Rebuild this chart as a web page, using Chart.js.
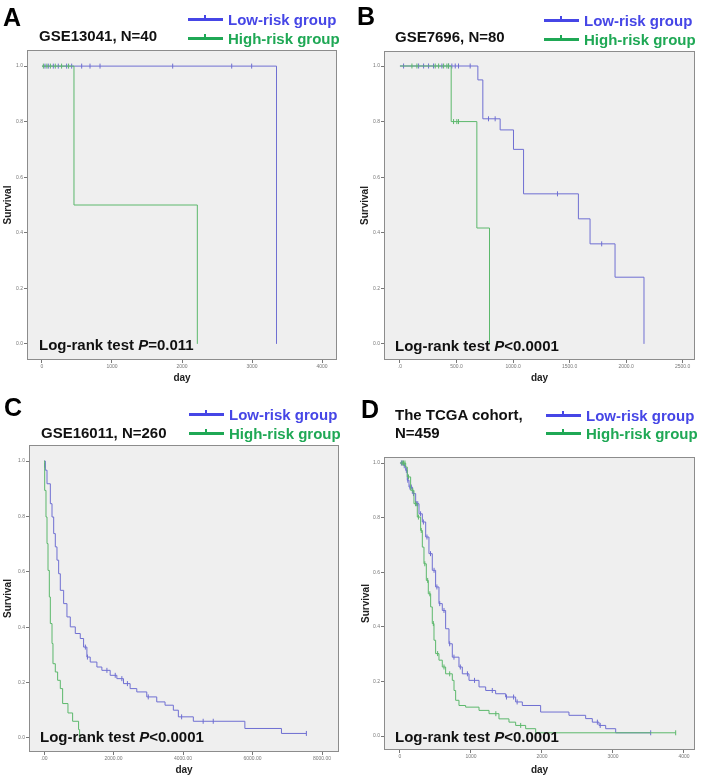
<!DOCTYPE html>
<html>
<head>
<meta charset="utf-8">
<script src="https://cdn.jsdelivr.net/npm/chart.js@4.4.1/dist/chart.umd.min.js"></script>
<style>
  body { margin: 0; background: #fff; font-family: "Liberation Sans", Arial, sans-serif; }
  #page { position: relative; width: 703px; height: 781px; overflow: hidden; background: #fff; }
  canvas { position: absolute; }
  .letter { position: absolute; font-size: 25px; font-weight: bold; line-height: 24px; color: #000; }
  .title { position: absolute; font-size: 15px; font-weight: bold; line-height: 18px; color: #111; white-space: nowrap; }
  .lg { position: absolute; display: flex; align-items: center; height: 18px; font-size: 15px; font-weight: bold; white-space: nowrap; }
  .lg .sw { position: relative; width: 35px; height: 3px; background: currentColor; margin-right: 5px; }
  .lg .sw::after { content: ""; position: absolute; left: 16px; top: -3px; width: 2px; height: 5px; background: currentColor; }
  .low { color: #4646e6; }
  .high { color: #1fa855; }
  .logrank { position: absolute; font-size: 15px; font-weight: bold; line-height: 18px; color: #111; white-space: nowrap; }
</style>
</head>
<body>
<div id="page">
  <canvas id="chartA" width="352" height="390" style="left:0;top:0"></canvas>
  <canvas id="chartB" width="351" height="390" style="left:352px;top:0"></canvas>
  <canvas id="chartC" width="352" height="391" style="left:0;top:390px"></canvas>
  <canvas id="chartD" width="351" height="391" style="left:352px;top:390px"></canvas>

  <div class="letter" style="left:3px;top:5px">A</div>
  <div class="title" style="left:39px;top:27px">GSE13041, N=40</div>
  <div class="lg low" style="left:188px;top:10px"><span class="sw"></span>Low-risk group</div>
  <div class="lg high" style="left:188px;top:29px"><span class="sw"></span>High-risk group</div>
  <div class="logrank" style="left:39px;top:336px">Log-rank test <i>P</i>=0.011</div>

  <div class="letter" style="left:357px;top:4px">B</div>
  <div class="title" style="left:395px;top:28px">GSE7696, N=80</div>
  <div class="lg low" style="left:544px;top:11px"><span class="sw"></span>Low-risk group</div>
  <div class="lg high" style="left:544px;top:30px"><span class="sw"></span>High-risk group</div>
  <div class="logrank" style="left:395px;top:337px">Log-rank test <i>P</i>&lt;0.0001</div>

  <div class="letter" style="left:4px;top:395px">C</div>
  <div class="title" style="left:41px;top:424px">GSE16011, N=260</div>
  <div class="lg low" style="left:189px;top:405px"><span class="sw"></span>Low-risk group</div>
  <div class="lg high" style="left:189px;top:424px"><span class="sw"></span>High-risk group</div>
  <div class="logrank" style="left:40px;top:728px">Log-rank test <i>P</i>&lt;0.0001</div>

  <div class="letter" style="left:361px;top:397px">D</div>
  <div class="title" style="left:395px;top:406px">The TCGA cohort,<br>N=459</div>
  <div class="lg low" style="left:546px;top:406px"><span class="sw"></span>Low-risk group</div>
  <div class="lg high" style="left:546px;top:424px"><span class="sw"></span>High-risk group</div>
  <div class="logrank" style="left:395px;top:728px">Log-rank test <i>P</i>&lt;0.0001</div>
</div>

<script>
const FONT = '"Liberation Sans", Arial, sans-serif';

// shared y axis
const yTicks = [0, 0.2, 0.4, 0.6, 0.8, 1.0];
const yLabels = ["0.0", "0.2", "0.4", "0.6", "0.8", "1.0"];

// A - GSE13041
const aXTicks = [0, 1000, 2000, 3000, 4000];
const aXLabels = ["0", "1000", "2000", "3000", "4000"];
const aLowTime = [0, 3350];
const aLowSurv = [1, 0];
const aLowCensTime = [43, 90, 162, 233, 352, 424, 567, 686, 829, 1867, 2710, 2995];
const aLowCensSurv = [1, 1, 1, 1, 1, 1, 1, 1, 1, 1, 1, 1];
const aHighTime = [0, 457, 2219];
const aHighSurv = [1, 0.5, 0];
const aHighCensTime = [20, 70, 120, 190, 280, 380];
const aHighCensSurv = [1, 1, 1, 1, 1, 1];

// B - GSE7696
const bXTicks = [0, 500, 1000, 1500, 2000, 2500];
const bXLabels = [".0", "500.0", "1000.0", "1500.0", "2000.0", "2500.0"];
const bLowTime = [0, 689, 733, 886, 1004, 1093, 1578, 1681, 1902, 2158];
const bLowSurv = [1, 0.95, 0.81, 0.77, 0.70, 0.54, 0.45, 0.36, 0.24, 0];
const bLowCensTime = [32, 165, 209, 253, 297, 371, 430, 459, 489, 518, 621, 783, 842, 1393, 1784];
const bLowCensSurv = [1, 1, 1, 1, 1, 1, 1, 1, 1, 1, 1, 0.81, 0.81, 0.54, 0.36];
const bHighTime = [0, 453, 680, 792];
const bHighSurv = [1, 0.8, 0.417, 0];
const bHighCensTime = [106, 150, 312, 342, 386, 415, 430, 474, 503, 518];
const bHighCensSurv = [1, 1, 1, 1, 1, 1, 1, 0.8, 0.8, 0.8];

// C - GSE16011
const cXTicks = [0, 2000, 4000, 6000, 8000];
const cXLabels = [".00", "2000.00", "4000.00", "6000.00", "8000.00"];
const cLowTime = [0, 38, 86, 182, 230, 278, 325, 373, 421, 469, 565, 660, 756, 900, 1043, 1139, 1234, 1330,
  1522, 1665, 1904, 2096, 2287, 2478, 2670, 2957, 3244, 3483, 3722, 3866, 4297, 5780, 6833, 7550];
const cLowSurv = [1, 0.967, 0.918, 0.846, 0.798, 0.738, 0.690, 0.642, 0.593, 0.533, 0.485, 0.437, 0.401, 0.377,
  0.359, 0.328, 0.292, 0.274, 0.256, 0.244, 0.226, 0.214, 0.196, 0.178, 0.166, 0.148, 0.130, 0.118, 0.100,
  0.076, 0.060, 0.034, 0.016, 0.016];
const cLowCensTime = [19, 1190, 1250, 1810, 2050, 2240, 2400, 3000, 3960, 4580, 4870, 7550];
const cLowCensSurv = [0.985, 0.328, 0.292, 0.244, 0.226, 0.214, 0.196, 0.148, 0.076, 0.060, 0.060, 0.016];
const cHighTime = [0, 19, 57, 86, 115, 153, 182, 230, 258, 325, 392, 469, 536, 689, 823, 995, 1024];
const cHighSurv = [1, 0.894, 0.798, 0.702, 0.605, 0.509, 0.413, 0.341, 0.268, 0.238, 0.208, 0.178, 0.124,
  0.090, 0.060, 0.030, 0];
const cHighCensTime = [];
const cHighCensSurv = [];

// D - TCGA
const dXTicks = [0, 1000, 2000, 3000, 4000];
const dXLabels = ["0", "1000", "2000", "3000", "4000"];
const dLowTime = [0, 56, 80, 103, 127, 174, 221, 268, 315, 362, 408, 455, 502, 549, 596, 643, 690, 737, 831,
  878, 972, 1113, 1207, 1347, 1488, 1629, 1723, 1981, 2380, 2615, 2709, 2803, 2897, 3038, 3531];
const dLowSurv = [1, 0.99, 0.973, 0.937, 0.912, 0.888, 0.851, 0.814, 0.784, 0.729, 0.668, 0.607, 0.546, 0.485,
  0.460, 0.393, 0.338, 0.289, 0.253, 0.228, 0.204, 0.180, 0.167, 0.155, 0.143, 0.125, 0.112, 0.088, 0.076,
  0.064, 0.051, 0.039, 0.027, 0.012, 0.012];
const dLowCensTime = [20, 40, 60, 90, 110, 140, 160, 190, 230, 250, 290, 330, 380, 430, 480, 520, 560, 620,
  700, 760, 850, 950, 1050, 1300, 1500, 1600, 1650, 2780, 2820, 3531];
const dLowCensSurv = [1, 1, 0.99, 0.973, 0.937, 0.912, 0.912, 0.888, 0.851, 0.851, 0.814, 0.784, 0.729, 0.668,
  0.607, 0.546, 0.485, 0.460, 0.338, 0.289, 0.253, 0.228, 0.204, 0.167, 0.143, 0.143, 0.125, 0.051, 0.039, 0.012];
const dHighTime = [0, 80, 103, 150, 197, 244, 291, 315, 338, 371, 399, 432, 455, 479, 502, 549, 596, 643, 737,
  761, 784, 831, 925, 1113, 1254, 1394, 1535, 1629, 1770, 1911, 3883];
const dHighSurv = [1, 0.985, 0.949, 0.9, 0.851, 0.802, 0.753, 0.692, 0.631, 0.570, 0.521, 0.473, 0.412, 0.351,
  0.302, 0.278, 0.253, 0.228, 0.204, 0.167, 0.131, 0.112, 0.106, 0.094, 0.082, 0.063, 0.051, 0.039, 0.027,
  0.012, 0.012];
const dHighCensTime = [30, 50, 70, 120, 180, 220, 260, 300, 350, 390, 420, 470, 530, 620, 700, 1350, 1700, 3883];
const dHighCensSurv = [1, 1, 1, 0.949, 0.9, 0.851, 0.802, 0.753, 0.631, 0.570, 0.521, 0.412, 0.302, 0.253,
  0.228, 0.082, 0.039, 0.012];

const LOW_COLOR = "#6f6fd2";
const HIGH_COLOR = "#5cb86c";

// grey plot box with a thin border, like SPSS
const framePlugin = {
  id: "frame",
  beforeDraw(chart) {
    const { ctx, chartArea: a } = chart;
    ctx.save();
    ctx.fillStyle = "#efefef";
    ctx.fillRect(a.left, a.top, a.width, a.height);
    ctx.strokeStyle = "#8c8c8c";
    ctx.lineWidth = 1;
    ctx.strokeRect(a.left + 0.5, a.top + 0.5, a.width - 1, a.height - 1);
    ctx.restore();
  },
};

function points(times, surv) {
  return times.map((t, i) => ({ x: t, y: surv[i] }));
}

function stepSet(times, surv, color) {
  return {
    data: points(times, surv),
    borderColor: color,
    borderWidth: 1,
    stepped: true,
    pointRadius: 0,
    fill: false,
  };
}

function censSet(times, surv, color) {
  return {
    data: points(times, surv),
    showLine: false,
    borderColor: color,
    backgroundColor: color,
    pointStyle: "line",
    rotation: 90,
    pointRadius: 2.5,
    pointBorderWidth: 1,
  };
}

function makeChart(p) {
  const [l, t, r, b] = p.area;
  new Chart(document.getElementById(p.canvas), {
    type: "line",
    data: {
      datasets: [
        stepSet(p.high[0], p.high[1], HIGH_COLOR),
        censSet(p.highCens[0], p.highCens[1], HIGH_COLOR),
        stepSet(p.low[0], p.low[1], LOW_COLOR),
        censSet(p.lowCens[0], p.lowCens[1], LOW_COLOR),
      ],
    },
    options: {
      responsive: false,
      animation: false,
      devicePixelRatio: 1,
      layout: { padding: { left: 0, top: t, right: p.w - r, bottom: 0 } },
      plugins: { legend: { display: false }, tooltip: { enabled: false } },
      scales: {
        x: {
          type: "linear",
          min: p.x[0],
          max: p.x[1],
          afterBuildTicks: (s) => { s.ticks = p.xTicks.map((v) => ({ value: v })); },
          afterFit: (s) => { s.height = p.h - b; },
          grid: { drawOnChartArea: false, drawTicks: true, tickLength: 3, color: "#777" },
          border: { display: false },
          ticks: {
            autoSkip: false, maxRotation: 0, padding: 1, color: "#777",
            font: { size: 5, family: FONT },
            callback: (v, i) => p.xLabels[i],
          },
          title: {
            display: true, text: "day", color: "#222",
            font: { size: 10, weight: "bold", family: FONT },
            padding: { top: 0, bottom: p.dayPad },
          },
        },
        y: {
          type: "linear",
          min: p.y[0],
          max: p.y[1],
          afterBuildTicks: (s) => { s.ticks = yTicks.map((v) => ({ value: v })); },
          afterFit: (s) => { s.width = l; },
          grid: { drawOnChartArea: false, drawTicks: true, tickLength: 3, color: "#777" },
          border: { display: false },
          ticks: {
            autoSkip: false, padding: 1, color: "#777",
            font: { size: 5, family: FONT },
            callback: (v, i) => yLabels[i],
          },
          title: {
            display: true, text: "Survival", color: "#222",
            font: { size: 10, weight: "bold", family: FONT },
            padding: { top: p.survPad, bottom: 0 },
          },
        },
      },
    },
    plugins: [framePlugin],
  });
}

const panels = [
  { canvas: "chartA", w: 352, h: 390, area: [27, 50, 337, 360], x: [-214, 4214], y: [-0.058, 1.058],
    xTicks: aXTicks, xLabels: aXLabels, dayPad: 6, survPad: 2,
    low: [aLowTime, aLowSurv], lowCens: [aLowCensTime, aLowCensSurv],
    high: [aHighTime, aHighSurv], highCens: [aHighCensTime, aHighCensSurv] },
  { canvas: "chartB", w: 351, h: 390, area: [32, 51, 343, 360], x: [-141, 2609], y: [-0.058, 1.054],
    xTicks: bXTicks, xLabels: bXLabels, dayPad: 6, survPad: 7,
    low: [bLowTime, bLowSurv], lowCens: [bLowCensTime, bLowCensSurv],
    high: [bHighTime, bHighSurv], highCens: [bHighCensTime, bHighCensSurv] },
  { canvas: "chartC", w: 352, h: 391, area: [29, 55, 339, 362], x: [-432, 8489], y: [-0.051, 1.058],
    xTicks: cXTicks, xLabels: cXLabels, dayPad: 5, survPad: 2,
    low: [cLowTime, cLowSurv], lowCens: [cLowCensTime, cLowCensSurv],
    high: [cHighTime, cHighSurv], highCens: [cHighCensTime, cHighCensSurv] },
  { canvas: "chartD", w: 351, h: 391, area: [32, 67, 343, 360], x: [-225, 4155], y: [-0.051, 1.022],
    xTicks: dXTicks, xLabels: dXLabels, dayPad: 5, survPad: 8,
    low: [dLowTime, dLowSurv], lowCens: [dLowCensTime, dLowCensSurv],
    high: [dHighTime, dHighSurv], highCens: [dHighCensTime, dHighCensSurv] },
];

panels.forEach(makeChart);
</script>
</body>
</html>
